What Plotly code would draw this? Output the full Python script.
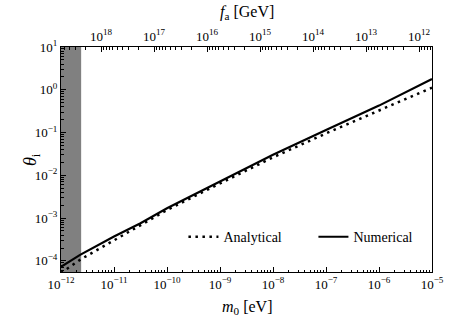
import numpy as np
import plotly.graph_objects as go

# ---- data ----
m_numerical = [1e-12, 10**-11.64, 1e-11, 10**-10.5, 1e-10, 1e-9, 1e-8, 1e-7, 1e-6, 1e-5]
theta_numerical = [10**-4.14, 10**-3.86, 10**-3.43, 10**-3.12, 10**-2.77, 10**-2.15,
                   10**-1.52, 10**-0.94, 10**-0.37, 10**0.25]

m_analytical = [1e-12, 10**-11.61, 1e-11, 10**-10.64, 1e-10, 1e-9, 1e-8, 1e-7, 1e-6, 1e-5]
theta_analytical = [10**-4.28, 10**-3.95, 10**-3.52, 10**-3.26, 10**-2.81, 10**-2.19,
                    10**-1.58, 10**-1.02, 10**-0.49, 10**0.05]

excluded_m = [1e-12, 2.4e-12]          # grey excluded band in m0
x_range = [1e-12, 1e-5]
y_range = [5.5e-5, 10]

x_tick_exp = [-12, -11, -10, -9, -8, -7, -6, -5]
y_tick_exp = [-4, -3, -2, -1, 0, 1]
fa_tick_exp = [18, 17, 16, 15, 14, 13, 12]
C_ma_fa = 5.7e6   # m_a [eV] * f_a [GeV]

def sup(e):
    s = str(e).replace("-", "\u2212")
    return f"10<sup>{s}</sup>"

FONT = "Liberation Serif, DejaVu Serif, serif"

fig = go.Figure()

# grey band
fig.add_trace(go.Scatter(
    x=[excluded_m[0], excluded_m[1], excluded_m[1], excluded_m[0], excluded_m[0]],
    y=[y_range[0], y_range[0], y_range[1], y_range[1], y_range[0]],
    fill="toself", fillcolor="#808080", mode="lines", line=dict(width=0),
    showlegend=False, hoverinfo="skip"))

fig.add_trace(go.Scatter(
    x=m_analytical, y=theta_analytical, mode="lines", name="Analytical",
    line=dict(color="black", width=2.5, dash="2.5px,4.5px")))
fig.add_trace(go.Scatter(
    x=m_numerical, y=theta_numerical, mode="lines", name="Numerical",
    line=dict(color="black", width=2.2)))

# invisible trace on top axis
fig.add_trace(go.Scatter(x=x_range, y=y_range, xaxis="x2", mode="markers",
                         marker=dict(opacity=0), showlegend=False, hoverinfo="skip"))

x_minor = [k * 10.0**e for e in range(-12, -5) for k in range(2, 10)]
y_minor = [k * 10.0**e for e in range(-5, 1) for k in range(2, 10)]
y_minor = [v for v in y_minor if y_range[0] <= v <= y_range[1]]
fa_major_m = [C_ma_fa / 10.0**e for e in fa_tick_exp]
fa_minor_m = [C_ma_fa / (k * 10.0**e) for e in range(11, 19) for k in range(2, 10)]
fa_minor_m = [v for v in fa_minor_m if x_range[0] <= v <= x_range[1]]

axis_common = dict(showgrid=False, zeroline=False, showline=True, linecolor="black",
                   linewidth=1, ticks="inside", ticklen=5, tickwidth=1, tickcolor="black",
                   tickfont=dict(family=FONT, size=13, color="black"))

fig.update_layout(
    width=452, height=319,
    margin=dict(l=61, r=20, t=47, b=47, autoexpand=False),
    plot_bgcolor="white", paper_bgcolor="white",
    font=dict(family=FONT, color="black"),
    xaxis=dict(type="log", range=[np.log10(x_range[0]), np.log10(x_range[1])],
               tickmode="array", tickvals=[10.0**e for e in x_tick_exp],
               ticktext=[sup(e) for e in x_tick_exp], mirror=True,
               minor=dict(tickmode="array", tickvals=x_minor, ticks="inside",
                          ticklen=2.5, tickcolor="black", tickwidth=1),
               **axis_common),
    xaxis2=dict(type="log", range=[np.log10(x_range[0]), np.log10(x_range[1])],
                overlaying="x", side="top", anchor="y",
                tickmode="array", tickvals=fa_major_m,
                ticktext=[sup(e) for e in fa_tick_exp],
                minor=dict(tickmode="array", tickvals=fa_minor_m, ticks="inside",
                           ticklen=2.5, tickcolor="black", tickwidth=1),
                **axis_common),
    yaxis=dict(type="log", range=[np.log10(y_range[0]), np.log10(y_range[1])],
               tickmode="array", tickvals=[10.0**e for e in y_tick_exp],
               ticktext=[sup(e) for e in y_tick_exp], mirror=True,
               minor=dict(tickmode="array", tickvals=y_minor, ticks="inside",
                          ticklen=2.5, tickcolor="black", tickwidth=1),
               **axis_common),
    legend=dict(orientation="h", x=0.33, y=0.155, xanchor="left", yanchor="middle",
                entrywidth=85, entrywidthmode="pixels",
                bgcolor="rgba(0,0,0,0)", font=dict(family=FONT, size=14, color="black")),
    showlegend=True,
)

fig.add_annotation(text="<i>m</i><sub>0</sub> [eV]", xref="paper", yref="paper",
                   x=0.5, y=0, yshift=-35, showarrow=False, yanchor="middle",
                   font=dict(family=FONT, size=16, color="black"))
fig.add_annotation(text="<i>f</i><sub>a</sub> [GeV]", xref="paper", yref="paper",
                   x=0.5, y=1, yshift=35, showarrow=False, yanchor="middle",
                   font=dict(family=FONT, size=16, color="black"))
fig.add_annotation(text="<i>θ</i><sub>i</sub>", xref="paper", yref="paper",
                   x=0, xshift=-43, y=0.5, showarrow=False, textangle=-90,
                   font=dict(family=FONT, size=18, color="black"))

fig.write_html("out.html", config={"displayModeBar": False},
               post_script="document.body.style.margin='0';document.body.style.overflow='hidden';")
